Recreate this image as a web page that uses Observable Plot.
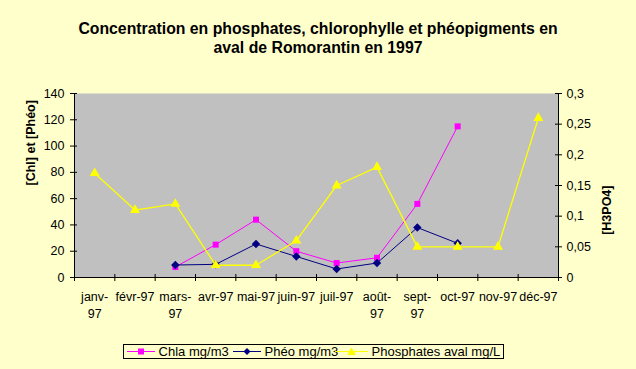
<!DOCTYPE html>
<html>
<head>
<meta charset="utf-8">
<script src="https://cdn.jsdelivr.net/npm/d3@7"></script>
<script src="https://cdn.jsdelivr.net/npm/@observablehq/plot@0.6"></script>
<style>
  html, body { margin: 0; padding: 0; background: #ffffcc; }
  #wrap { position: relative; width: 636px; height: 369px; background: #ffffcc; overflow: hidden;
          font-family: Arial, "Liberation Sans", sans-serif; color: #000; }
  #title { position: absolute; left: 0; top: 19px; width: 636px; text-align: center;
           font-weight: bold; font-size: 15.8px; line-height: 19px; }
  #legend { position: absolute; left: 123px; top: 344px; width: 379px; height: 13px;
            border: 1px solid #000; font-size: 13px; line-height: 13px; white-space: nowrap; }
  #legend span.item { position: absolute; top: 0; }
  #legend svg { vertical-align: top; }
  #chart { position: absolute; left: 0; top: 0; }
</style>
</head>
<body>
<div id="wrap">
  <div id="chart"></div>
  <div id="title">Concentration en phosphates, chlorophylle et phéopigments en<br>aval de Romorantin en 1997</div>
  <div id="legend"></div>
</div>
<script>
// ---- data ----
const months = ["janv-97","févr-97","mars-97","avr-97","mai-97","juin-97","juil-97","août-97","sept-97","oct-97","nov-97","déc-97"];
const monthLabels = ["janv-\n97","févr-97","mars-\n97","avr-97","mai-97","juin-97","juil-97","août-\n97","sept-\n97","oct-97","nov-97","déc-97"];
const chla = [null, null, 8, 25, 44, 20, 11, 15, 56, 115, null, null];
const pheo = [null, null, 9.5, 10, 25.5, 16, 6.5, 11, 38, 26, null, null];
const phosphates = [0.17, 0.11, 0.12, 0.02, 0.02, 0.06, 0.15, 0.18, 0.05, 0.05, 0.05, 0.26];
const leftTicks = [0, 20, 40, 60, 80, 100, 120, 140];
const rightTicks = [0, 0.05, 0.1, 0.15, 0.2, 0.25, 0.3];
const rightTickLabels = ["0", "0,05", "0,1", "0,15", "0,2", "0,25", "0,3"];
const seriesNames = ["Chla mg/m3", "Phéo mg/m3", "Phosphates aval mg/L"];

const colors = {chla: "#ff00ff", pheo: "#000080", phos: "#ffff00"};
const leftMax = 140, rightMax = 0.3, k = leftMax / rightMax;

const rows = months.map((m, i) => ({
  i, xc: i + 0.5, month: m,
  chla: chla[i], pheo: pheo[i], phos: phosphates[i] == null ? null : phosphates[i] * k
}));

const font = 'Arial, "Liberation Sans", sans-serif';

const chart = Plot.plot({
  width: 636, height: 369,
  marginLeft: 74, marginRight: 78, marginTop: 93, marginBottom: 92,
  style: {background: "transparent", fontFamily: font, fontSize: "12px", color: "#000", overflow: "visible"},
  x: {domain: [0, 12], axis: null},
  y: {domain: [0, leftMax], axis: null},
  marks: [
    Plot.frame({fill: "#c0c0c0", stroke: null}),
    // axis lines
    Plot.ruleY([0], {stroke: "#000"}),
    Plot.ruleX([0, 12], {stroke: "#000"}),
    // x ticks at category boundaries
    Plot.ruleX(d3.range(months.length + 1), {y1: 0, y2: 0, insetTop: -3, insetBottom: -4, stroke: "#000"}),
    // left ticks
    Plot.ruleY(leftTicks, {x1: 0, x2: 0, insetLeft: -4, insetRight: -3, stroke: "#000"}),
    // right ticks
    Plot.ruleY(rightTicks.map(v => v * k), {x1: 12, x2: 12, insetLeft: -3, insetRight: -4, stroke: "#000"}),
    // left tick labels
    Plot.text(leftTicks, {frameAnchor: "left", y: d => d, text: d => String(d), textAnchor: "end", dx: -10, fontSize: 12.5, fill: "#000"}),
    // right tick labels
    Plot.text(rightTicks, {frameAnchor: "right", y: d => d * k, text: (d, i) => rightTickLabels[i], textAnchor: "start", dx: 8, fontSize: 12.5, fill: "#000"}),
    // x labels
    Plot.text(monthLabels, {x: (d, i) => i + 0.5, frameAnchor: "bottom", text: d => d, lineAnchor: "top", dy: 11, lineHeight: 1.4, fontSize: 12.5, fill: "#000"}),
    // axis titles
    Plot.text(["[Chl] et [Phéo]"], {frameAnchor: "left", text: d => d, rotate: -90, dx: -44, fontWeight: "bold", fontSize: 12.5, fill: "#000"}),
    Plot.text(["[H3PO4]"], {frameAnchor: "right", text: d => d, rotate: -90, dx: 48, fontWeight: "bold", fontSize: 12.5, fill: "#000"}),
    // series
    Plot.line(rows, {filter: d => d.chla != null, x: "xc", y: "chla", stroke: colors.chla, strokeWidth: 1}),
    Plot.dot(rows, {filter: d => d.chla != null, x: "xc", y: "chla", symbol: "square", r: 3.4, fill: colors.chla, stroke: null}),
    Plot.line(rows, {filter: d => d.pheo != null, x: "xc", y: "pheo", stroke: colors.pheo, strokeWidth: 1}),
    Plot.dot(rows, {filter: d => d.pheo != null, x: "xc", y: "pheo", symbol: "diamond2", r: 3.8, fill: colors.pheo, stroke: null}),
    Plot.line(rows, {filter: d => d.phos != null, x: "xc", y: "phos", stroke: colors.phos, strokeWidth: 1.3}),
    Plot.dot(rows, {filter: d => d.phos != null, x: "xc", y: "phos", symbol: "triangle", r: 3.7, fill: colors.phos, stroke: null})
  ]
});
document.getElementById("chart").appendChild(chart);

// legend
const legend = document.getElementById("legend");
const sw = (color, shape) => {
  let m = "";
  if (shape === "square") m = `<rect x="11" y="3.5" width="6" height="6" fill="${color}"/>`;
  if (shape === "diamond") m = `<path d="M14 3 L17.5 6.5 L14 10 L10.5 6.5 Z" fill="${color}"/>`;
  if (shape === "triangle") m = `<path d="M16.5 2.5 L21 10 L12 10 Z" fill="${color}"/>`;
  const w = shape === "triangle" ? 33 : 28;
  return `<svg width="${w}" height="13"><line x1="0" x2="${w}" y1="6.5" y2="6.5" stroke="${color}" stroke-width="1"/>${m}</svg>`;
};
const items = [
  {left: 3, color: colors.chla, shape: "square", name: seriesNames[0]},
  {left: 109, color: colors.pheo, shape: "diamond", name: seriesNames[1]},
  {left: 211, color: colors.phos, shape: "triangle", name: seriesNames[2]}
];
items.forEach(it => {
  const s = document.createElement("span");
  s.className = "item";
  s.style.left = it.left + "px";
  s.innerHTML = sw(it.color, it.shape) + " " + it.name;
  legend.appendChild(s);
});
</script>
</body>
</html>
